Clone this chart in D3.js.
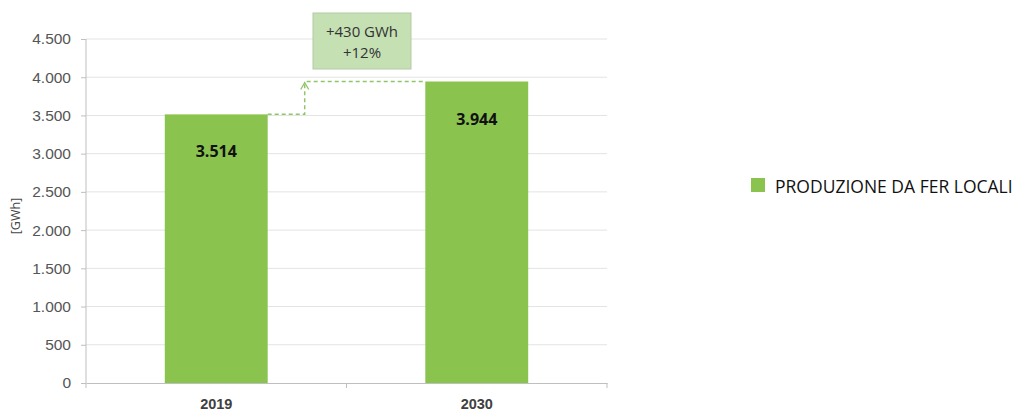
<!DOCTYPE html>
<html>
<head>
  <meta charset="UTF-8">
  <title>Produzione da FER locali</title>
  <script src="https://d3js.org/d3.v7.min.js"></script>
  <style>
    body { margin: 0; background: #fff; font-family: "Open Sans", Arial, sans-serif; }
    .grid line { stroke: #e3e3e3; }
    .axis path, .axis line { stroke: #bfbfbf; }
    .y-axis text { font-size: 15.5px; fill: #555; }
    .x-axis text { font-size: 14.5px; fill: #404040; font-weight: 600; }
  </style>
</head>
<body>
  <div id="chart"></div>
  <script>
    const years = ["2019", "2030"];
    const production = [3514, 3944];
    const yTicks = [0, 500, 1000, 1500, 2000, 2500, 3000, 3500, 4000, 4500];
    const deltaLines = ["+430 GWh", "+12%"];
    const seriesName = "PRODUZIONE DA FER LOCALI";

    const width = 1026, height = 412;
    const margin = { top: 39, right: 419, bottom: 29, left: 86 };
    const innerW = width - margin.left - margin.right;
    const innerH = height - margin.top - margin.bottom;
    const green = "#8bc34f";
    const fmt = d3.format(",");
    const itFmt = v => fmt(v).replace(/,/g, ".");

    const svg = d3.select("#chart").append("svg")
      .attr("width", width)
      .attr("height", height);

    const g = svg.append("g")
      .attr("transform", `translate(${margin.left},${margin.top})`);

    const x = d3.scaleBand().domain(years).range([0, innerW]).padding(0);
    const y = d3.scaleLinear().domain([0, 4500]).range([innerH, 0]);
    const barW = x.bandwidth() * 0.395;

    // gridlines
    g.append("g").attr("class", "grid")
      .selectAll("line")
      .data(yTicks.slice(1))
      .enter().append("line")
      .attr("x1", 0).attr("x2", innerW)
      .attr("y1", d => y(d)).attr("y2", d => y(d));

    // y axis
    const yAxis = g.append("g").attr("class", "axis y-axis")
      .call(d3.axisLeft(y).tickValues(yTicks).tickFormat(itFmt).tickSize(5).tickSizeOuter(0).tickPadding(10));
    yAxis.select(".domain").attr("d", `M0,${y(4500)}V${innerH}`);

    // x axis with ticks between categories
    const xAxis = g.append("g").attr("class", "axis x-axis")
      .attr("transform", `translate(0,${innerH})`)
      .call(d3.axisBottom(x).tickSize(0).tickPadding(16));
    xAxis.selectAll(".sep")
      .data([0, x.step(), 2 * x.step()])
      .enter().append("line")
      .attr("class", "sep")
      .attr("x1", d => d).attr("x2", d => d)
      .attr("y1", 0).attr("y2", 5);

    // bars
    g.selectAll(".bar")
      .data(production)
      .enter().append("rect")
      .attr("class", "bar")
      .attr("x", (d, i) => x(years[i]) + (x.bandwidth() - barW) / 2)
      .attr("y", d => y(d))
      .attr("width", barW)
      .attr("height", d => innerH - y(d))
      .attr("fill", green);

    // value labels
    g.selectAll(".val")
      .data(production)
      .enter().append("text")
      .attr("class", "val")
      .attr("x", (d, i) => x(years[i]) + x.bandwidth() / 2)
      .attr("y", d => y(d) + 43)
      .attr("text-anchor", "middle")
      .attr("font-size", 16)
      .attr("font-weight", "bold")
      .attr("fill", "#111")
      .text(itFmt);

    // y label
    svg.append("text")
      .attr("transform", "translate(20,216) rotate(-90)")
      .attr("text-anchor", "middle")
      .attr("font-size", 12.5)
      .attr("fill", "#444")
      .text("[GWh]");

    // step arrow between bars
    const x0 = x(years[0]) + (x.bandwidth() + barW) / 2;
    const x1 = x(years[1]) + (x.bandwidth() - barW) / 2;
    const xs = x0 + 37;
    const dash = { stroke: "#8fc66b", "stroke-width": 1.5, "stroke-dasharray": "4,3", fill: "none" };
    const path1 = g.append("path")
      .attr("d", `M${x0},${y(production[0])}H${xs}V${y(production[1]) + 2}`);
    const path2 = g.append("path")
      .attr("d", `M${xs + 2},${y(production[1])}H${x1}`);
    [path1, path2].forEach(p => Object.entries(dash).forEach(([k, v]) => p.attr(k, v)));
    g.append("path")
      .attr("d", `M${xs - 4},${y(production[1]) + 8}L${xs},${y(production[1]) + 1}L${xs + 4},${y(production[1]) + 8}`)
      .attr("fill", "none")
      .attr("stroke", "#8fc66b")
      .attr("stroke-width", 1.3);

    // delta box
    const bx = 313, by = 13, bw = 98, bh = 56;
    svg.append("rect")
      .attr("x", bx).attr("y", by)
      .attr("width", bw).attr("height", bh)
      .attr("fill", "#c5e0b3")
      .attr("stroke", "#b5c9a8");
    svg.selectAll(".delta")
      .data(deltaLines)
      .enter().append("text")
      .attr("class", "delta")
      .attr("x", bx + bw / 2)
      .attr("y", (d, i) => by + 24 + i * 21)
      .attr("text-anchor", "middle")
      .attr("font-size", 15)
      .attr("fill", "#333")
      .text(d => d);

    // legend
    const lg = svg.append("g").attr("transform", "translate(751,178)");
    lg.append("rect").attr("width", 14).attr("height", 14).attr("fill", green);
    lg.append("text")
      .attr("x", 24).attr("y", 14.5)
      .attr("font-size", 17.5)
      .attr("fill", "#111")
      .text(seriesName);
  </script>
</body>
</html>
